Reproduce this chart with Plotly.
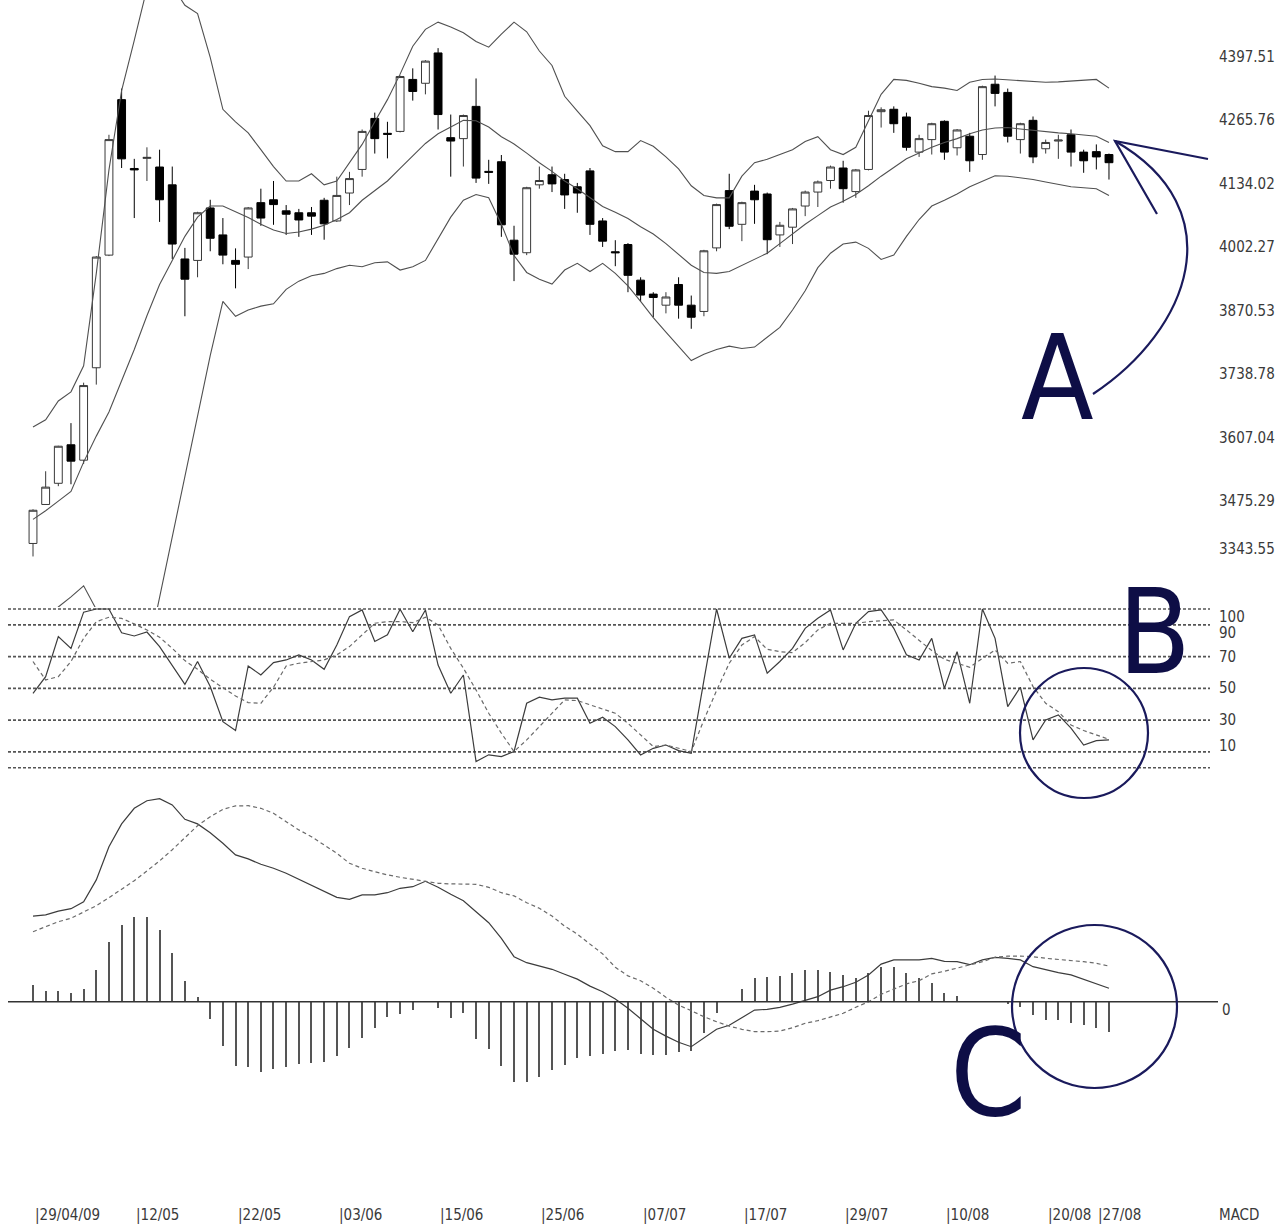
import plotly.graph_objects as go

W, H = 1275, 1224

# ---------------- data ----------------
TICK_IDX = [0, 8, 16, 24, 32, 40, 48, 56, 64, 72, 80, 84]
TICK_TEXT = ["29/04/09", "12/05", "22/05", "03/06", "15/06", "25/06",
             "07/07", "17/07", "29/07", "10/08", "20/08", "27/08"]

OPEN = [3387, 3468, 3512, 3592, 3560, 3752, 3986, 4309, 4166, 4187,
        4169, 4132, 3978, 3975, 4084, 4028, 3975, 3982, 4095, 4101,
        4078, 4074, 4074, 4100, 4057, 4115, 4164, 4270, 4239, 4243,
        4351, 4343, 4406, 4230, 4228, 4295, 4160, 4180, 4017, 3991,
        4132, 4153, 4143, 4128, 4161, 4057, 3993, 4008, 3934, 3905,
        3882, 3925, 3882, 3869, 4001, 4120, 4050, 4119, 4113, 4028,
        4044, 4088, 4117, 4141, 4167, 4118, 4164, 4284, 4289, 4273,
        4200, 4226, 4264, 4209, 4233, 4195, 4341, 4324, 4226, 4266,
        4207, 4223, 4236, 4200, 4201, 4195]
HIGH = [3458, 3537, 3590, 3637, 3721, 3984, 4236, 4332, 4186, 4210,
        4205, 4170, 4001, 4076, 4101, 4063, 4000, 4086, 4124, 4140,
        4090, 4082, 4086, 4105, 4149, 4159, 4247, 4282, 4263, 4359,
        4374, 4391, 4416, 4278, 4278, 4353, 4184, 4194, 4047, 4128,
        4170, 4170, 4155, 4136, 4167, 4063, 4017, 4011, 3940, 3909,
        3909, 3940, 3902, 3997, 4093, 4155, 4097, 4132, 4116, 4055,
        4084, 4120, 4141, 4172, 4182, 4165, 4286, 4293, 4295, 4282,
        4236, 4261, 4266, 4248, 4240, 4338, 4359, 4332, 4261, 4274,
        4226, 4236, 4247, 4205, 4216, 4197]
LOW = [3360, 3467, 3506, 3510, 3552, 3717, 3984, 4167, 4063, 4140,
       4055, 3978, 3859, 3940, 3994, 3967, 3917, 3957, 4047, 4049,
       4028, 4024, 4028, 4018, 4055, 4090, 4149, 4197, 4187, 4241,
       4307, 4320, 4247, 4149, 4170, 4136, 4134, 4024, 3932, 3986,
       4124, 4117, 4082, 4074, 4028, 4003, 3963, 3909, 3890, 3857,
       3865, 3854, 3833, 3859, 3994, 4040, 4015, 4051, 3988, 4003,
       4009, 4067, 4086, 4124, 4095, 4105, 4162, 4251, 4240, 4203,
       4190, 4195, 4184, 4193, 4159, 4184, 4295, 4220, 4197, 4177,
       4197, 4186, 4170, 4157, 4164, 4143]
CLOSE = [3456, 3504, 3589, 3558, 3715, 3982, 4226, 4186, 4163, 4189,
         4101, 4009, 3936, 4074, 4021, 3986, 3967, 4084, 4063, 4091,
         4071, 4059, 4067, 4051, 4110, 4145, 4243, 4228, 4237, 4357,
         4326, 4389, 4278, 4223, 4276, 4146, 4158, 4049, 3988, 4126,
         4141, 4134, 4111, 4115, 4050, 4015, 3991, 3944, 3903, 3898,
         3899, 3882, 3857, 3995, 4091, 4046, 4095, 4101, 4018, 4048,
         4082, 4117, 4138, 4169, 4124, 4163, 4276, 4288, 4259, 4210,
         4228, 4259, 4200, 4246, 4182, 4336, 4322, 4233, 4259, 4190,
         4220, 4225, 4200, 4182, 4190, 4178]

BB_UPPER = [3629, 3644, 3683, 3702, 3756, 3948, 4163, 4328, 4432, 4540,
            4570, 4545, 4505, 4488, 4397, 4289, 4263, 4240, 4205, 4170,
            4140, 4140, 4155, 4132, 4140, 4178, 4216, 4263, 4309, 4362,
            4420, 4455, 4470, 4460, 4448, 4430, 4418, 4445, 4470, 4450,
            4410, 4380, 4316, 4285, 4255, 4213, 4201, 4201, 4224, 4212,
            4190, 4165, 4130, 4110, 4105, 4105, 4150, 4178, 4185, 4195,
            4205, 4222, 4232, 4205, 4195, 4210, 4265, 4320, 4351, 4349,
            4343, 4336, 4333, 4328, 4345, 4351, 4352, 4350, 4348, 4346,
            4345, 4346, 4348, 4350, 4351, 4333]
BB_MID = [3437, 3455, 3475, 3495, 3556, 3610, 3660, 3725, 3790, 3860,
          3925, 3975, 4025, 4065, 4088, 4088, 4076, 4064, 4050, 4038,
          4031, 4034, 4040, 4048, 4060, 4074, 4100, 4120, 4140, 4166,
          4193, 4218, 4238, 4252, 4266, 4265, 4252, 4232, 4217, 4198,
          4178, 4160, 4140, 4124, 4105, 4087, 4075, 4062, 4045, 4030,
          4010, 3988, 3965, 3950, 3948, 3952, 3965, 3978, 3990, 4010,
          4030, 4050, 4068, 4086, 4098, 4112, 4130, 4150, 4168, 4186,
          4198, 4210, 4220, 4228, 4238, 4246, 4250, 4251, 4248, 4245,
          4242, 4240, 4238, 4236, 4233, 4220]
BB_LOWER = [3180, 3215, 3255, 3276, 3299, 3250, 3180, 3130, 3110, 3150,
            3275, 3400, 3526, 3652, 3777, 3890, 3859, 3872, 3880, 3885,
            3915, 3932, 3943, 3948, 3958, 3965, 3962, 3970, 3972, 3955,
            3962, 3975, 4020, 4065, 4100, 4112, 4105, 4050, 3985, 3950,
            3936, 3926, 3955, 3969, 3952, 3969, 3948, 3922, 3890, 3856,
            3826, 3797, 3767, 3780, 3790, 3797, 3792, 3795, 3815, 3836,
            3872, 3912, 3960, 3990, 4009, 4013, 4000, 3977, 3986, 4025,
            4060, 4088, 4100, 4113, 4128, 4140, 4151, 4150, 4147, 4143,
            4138, 4133, 4128, 4126, 4124, 4110]

STOCH_K = [46.9, 57.4, 82.6, 75.2, 98.0, 100.0, 100.0, 85.0, 83.0, 85.5,
           76.3, 64.5, 52.5, 66.9, 51.1, 29.0, 23.4, 64.1, 58.4, 66.2,
           67.9, 71.1, 67.9, 62.0, 77.3, 95.2, 99.4, 79.5, 83.7, 99.8,
           85.7, 99.4, 64.7, 46.9, 58.4, 3.9, 8.1, 7.0, 10.2, 40.6,
           44.4, 42.7, 43.8, 43.8, 28.0, 31.8, 25.9, 17.5, 8.0, 12.2,
           14.3, 10.8, 9.1, 55.0, 100.0, 69.0, 81.5, 83.7, 59.5, 66.9,
           75.2, 87.8, 94.2, 99.4, 74.2, 91.0, 98.4, 99.4, 87.8, 71.1,
           67.9, 81.5, 50.0, 73.1, 40.6, 100.0, 81.5, 38.5, 50.7, 17.5,
           30.1, 33.3, 24.9, 14.3, 17.1, 17.5]
STOCH_D = [66.9, 55.3, 57.4, 66.9, 81.5, 92.0, 94.8, 94.1, 90.6, 86.8,
           82.2, 75.2, 67.5, 62.0, 55.7, 50.7, 45.2, 41.0, 40.6, 50.7,
           64.1, 65.8, 66.9, 67.9, 71.1, 76.3, 83.7, 91.0, 92.1, 92.1,
           91.4, 94.8, 90.0, 75.2, 62.7, 49.0, 34.3, 21.7, 10.2, 17.5,
           25.9, 34.3, 42.7, 42.3, 39.5, 36.8, 34.3, 28.0, 20.6, 13.3,
           14.3, 12.2, 10.2, 30.1, 48.6, 65.8, 77.3, 82.6, 74.6, 73.1,
           72.5, 78.8, 86.8, 91.0, 91.0, 91.0, 92.0, 92.7, 93.1, 86.8,
           80.5, 73.8, 68.3, 65.8, 63.3, 68.9, 74.2, 65.8, 66.9, 51.1,
           40.6, 35.3, 26.9, 23.4, 20.6, 17.9]

MACD_DIF = [42.8, 43.4, 45.3, 46.5, 50.0, 60.9, 77.5, 88.9, 96.7, 100.5,
            101.5, 98.4, 91.2, 88.9, 84.5, 79.2, 73.4, 71.4, 68.7, 66.7,
            64.2, 61.2, 57.9, 54.9, 52.2, 51.2, 53.4, 53.4, 54.5, 56.7,
            57.5, 60.2, 57.2, 53.7, 50.5, 45.0, 39.5, 31.7, 22.5, 19.5,
            17.8, 16.2, 13.7, 11.3, 7.8, 5.0, 1.4, -3.3, -8.5, -13.8,
            -17.2, -20.3, -22.5, -18.3, -13.8, -11.8, -7.8, -4.2, -3.8, -2.8,
            -1.2, 0.5, 2.5, 5.8, 7.5, 9.7, 13.4, 18.8, 20.9, 20.9,
            20.9, 21.7, 20.2, 20.0, 18.5, 20.9, 22.2, 21.7, 20.9, 17.5,
            15.9, 14.5, 13.4, 11.2, 8.7, 6.7]
MACD_DEA = [35.0, 37.5, 40.0, 41.7, 44.7, 48.0, 52.0, 56.2, 60.5, 65.4,
            70.4, 76.0, 82.0, 88.0, 92.5, 96.2, 97.9, 98.0, 96.7, 94.2,
            90.0, 85.9, 82.5, 78.4, 74.2, 69.2, 66.7, 65.0, 63.4, 62.2,
            61.2, 60.0, 59.2, 58.9, 58.9, 58.7, 57.2, 54.5, 52.9, 49.5,
            46.7, 42.8, 37.8, 33.8, 28.8, 23.9, 17.2, 12.9, 10.5, 6.7,
            2.2, -1.7, -4.5, -7.5, -10.0, -12.2, -13.8, -15.0, -15.0, -14.7,
            -13.0, -10.8, -9.5, -7.8, -5.8, -2.8, 0.0, 3.7, 6.2, 8.9,
            10.5, 13.9, 15.2, 16.7, 18.2, 20.0, 22.2, 22.8, 22.8, 22.5,
            21.7, 21.2, 20.5, 20.0, 19.2, 17.8]
MACD_HIST = [8.3, 5.5, 5.5, 4.2, 6.2, 15.8, 29.7, 38.3, 42.2, 42.2,
             35.8, 24.2, 10.3, 2.2, -8.8, -22.0, -32.2, -32.8, -35.0, -33.8,
             -32.5, -31.2, -30.8, -30.0, -27.2, -23.3, -18.3, -13.3, -7.8, -6.2,
             -4.2, 0.0, -3.3, -8.3, -5.8, -18.8, -23.8, -32.0, -40.0, -40.0,
             -37.5, -34.2, -31.7, -28.3, -27.2, -26.2, -24.5, -24.2, -26.0, -26.7,
             -26.7, -25.0, -24.5, -15.8, -5.8, 0.0, 6.2, 11.7, 12.2, 12.8,
             14.5, 15.8, 15.8, 15.0, 13.3, 11.7, 14.2, 17.5, 17.2, 14.2,
             11.7, 9.2, 4.2, 2.8, 0.0, 0.0, 0.0, -1.2, -2.5, -6.7,
             -9.2, -9.2, -10.8, -11.7, -13.3, -15.0]

PRICE_TICKS = [4397.51, 4265.76, 4134.02, 4002.27, 3870.53,
               3738.78, 3607.04, 3475.29, 3343.55]
STOCH_LEVELS = [100, 90, 70, 50, 30, 10, 0]
STOCH_TICKS = [100, 90, 70, 50, 30, 10]

X = list(range(len(CLOSE)))

# ---------------- helpers (pixel -> paper) ----------------
def px(p):
    return p / W


def py(p):
    return 1 - p / H


FONT = "Liberation Sans Narrow, DejaVu Sans Condensed, Arial Narrow, sans-serif"
LBL = dict(family=FONT, size=15, color="#3a3a3a")
NAVY_TXT = "#0e0e46"
NAVY = "#1a1a5c"
LINE = "#505050"

fig = go.Figure()

fig.add_trace(go.Candlestick(
    x=X, open=OPEN, high=HIGH, low=LOW, close=CLOSE,
    increasing=dict(line=dict(color="#383838", width=1), fillcolor="white"),
    decreasing=dict(line=dict(color="#000000", width=1), fillcolor="#000000"),
    whiskerwidth=0, xaxis="x", yaxis="y", showlegend=False))

for band in (BB_UPPER, BB_MID, BB_LOWER):
    fig.add_trace(go.Scatter(x=X, y=band, mode="lines",
                             line=dict(color=LINE, width=1.1),
                             xaxis="x", yaxis="y", showlegend=False))

fig.add_trace(go.Scatter(x=X, y=STOCH_K, mode="lines",
                         line=dict(color="#3c3c3c", width=1.2),
                         xaxis="x2", yaxis="y2", showlegend=False))
fig.add_trace(go.Scatter(x=X, y=STOCH_D, mode="lines",
                         line=dict(color="#6a6a6a", width=1.2, dash="4px,3px"),
                         xaxis="x2", yaxis="y2", showlegend=False))

fig.add_trace(go.Bar(x=X, y=MACD_HIST, width=0.085,
                     marker=dict(color="#555555", line=dict(width=0)),
                     xaxis="x3", yaxis="y3", showlegend=False))
fig.add_trace(go.Scatter(x=X, y=MACD_DIF, mode="lines",
                         line=dict(color="#3c3c3c", width=1.2),
                         xaxis="x3", yaxis="y3", showlegend=False))
fig.add_trace(go.Scatter(x=X, y=MACD_DEA, mode="lines",
                         line=dict(color="#6a6a6a", width=1.2, dash="4px,3px"),
                         xaxis="x3", yaxis="y3", showlegend=False))

XDOM = [px(8), px(1210)]
XRANGE = [-1.975, 92.98]
hidden = dict(visible=False, showgrid=False, zeroline=False, fixedrange=True)

fig.update_layout(
    width=W, height=H,
    margin=dict(l=0, r=0, t=0, b=0),
    paper_bgcolor="white", plot_bgcolor="rgba(0,0,0,0)",
    boxgap=0.27, boxgroupgap=0.15,
    bargap=0,
    showlegend=False,
    xaxis=dict(domain=XDOM, range=XRANGE, anchor="y",
               rangeslider=dict(visible=False), **hidden),
    xaxis2=dict(domain=XDOM, range=XRANGE, anchor="y2", **hidden),
    xaxis3=dict(domain=XDOM, range=XRANGE, anchor="y3", **hidden),
    yaxis=dict(domain=[py(607), 1], range=[3255, 4516], anchor="x", **hidden),
    yaxis2=dict(domain=[py(775), py(600)], range=[-4.6, 105.67], anchor="x2", **hidden),
    yaxis3=dict(domain=[py(1100), py(785)], range=[-49.15, 108.35], anchor="x3", **hidden),
)

shapes = []
for lvl in STOCH_LEVELS:
    shapes.append(dict(type="line", xref="paper", yref="y2",
                       x0=px(8), x1=px(1210), y0=lvl, y1=lvl,
                       line=dict(color="#555555", width=1.6, dash="3px,2px"),
                       layer="below"))
shapes.append(dict(type="line", xref="paper", yref="y3",
                   x0=px(8), x1=px(1218), y0=0, y1=0,
                   line=dict(color="#333333", width=1.5)))
# circles B and C
shapes.append(dict(type="circle", xref="paper", yref="paper",
                   x0=px(1020), x1=px(1148), y0=py(668), y1=py(798),
                   line=dict(color=NAVY, width=2.2)))
shapes.append(dict(type="circle", xref="paper", yref="paper",
                   x0=px(1012), x1=px(1177), y0=py(925), y1=py(1088),
                   line=dict(color=NAVY, width=2.2)))


def pth(points_cmd):
    out = []
    for item in points_cmd:
        if isinstance(item, str):
            out.append(item)
        else:
            out.append(f"{px(item[0]):.5f},{py(item[1]):.5f}")
    return " ".join(out)


arrow_curve = pth(["M", (1093, 394), "C", (1190, 330), (1235, 210), (1115, 141)])
arrow_head = pth(["M", (1208, 159), "L", (1115, 141), "L", (1157, 214)])
for p in (arrow_curve, arrow_head):
    shapes.append(dict(type="path", xref="paper", yref="paper", path=p,
                       line=dict(color=NAVY, width=2.2)))
fig.update_layout(shapes=shapes)

ann = []
for i, v in enumerate(PRICE_TICKS):
    ann.append(dict(x=px(1217), xref="paper", y=v, yref="y", text=f"{v:.2f}",
                    xanchor="left", yanchor="middle", showarrow=False, font=LBL,
                    yshift=15 if i == len(PRICE_TICKS) - 1 else 0))
stoch_shift = {100: -8, 90: -8, 70: 0, 50: 0, 30: 0, 10: 6}
for v in STOCH_TICKS:
    ann.append(dict(x=px(1217), xref="paper", y=v, yref="y2", text=str(v),
                    xanchor="left", yanchor="middle", showarrow=False, font=LBL,
                    yshift=stoch_shift[v]))
ann.append(dict(x=px(1220), xref="paper", y=0, yref="y3", text="0",
                xanchor="left", yanchor="middle", showarrow=False, font=LBL,
                yshift=-8))
ann.append(dict(x=px(1217), xref="paper", y=py(1215), yref="paper", text="MACD",
                xanchor="left", yanchor="middle", showarrow=False, font=LBL))
for i, t in zip(TICK_IDX, TICK_TEXT):
    ann.append(dict(x=i, xref="x3", y=py(1215), yref="paper", text="|" + t,
                    xanchor="left", yanchor="middle", showarrow=False, font=LBL))

ann.append(dict(x=px(1057), y=py(378), xref="paper", yref="paper", text="A",
                showarrow=False, xanchor="center", yanchor="middle",
                font=dict(family=FONT, size=118, color=NAVY_TXT)))
ann.append(dict(x=px(1154), y=py(632), xref="paper", yref="paper", text="B",
                showarrow=False, xanchor="center", yanchor="middle",
                font=dict(family=FONT, size=118, color=NAVY_TXT)))
ann.append(dict(x=px(988), y=py(1073), xref="paper", yref="paper", text="C",
                showarrow=False, xanchor="center", yanchor="middle",
                font=dict(family=FONT, size=122, color=NAVY_TXT)))
fig.update_layout(annotations=ann)

fig.write_html("out.html", config={"displayModeBar": False},
               post_script="document.body.style.margin='0px';")
